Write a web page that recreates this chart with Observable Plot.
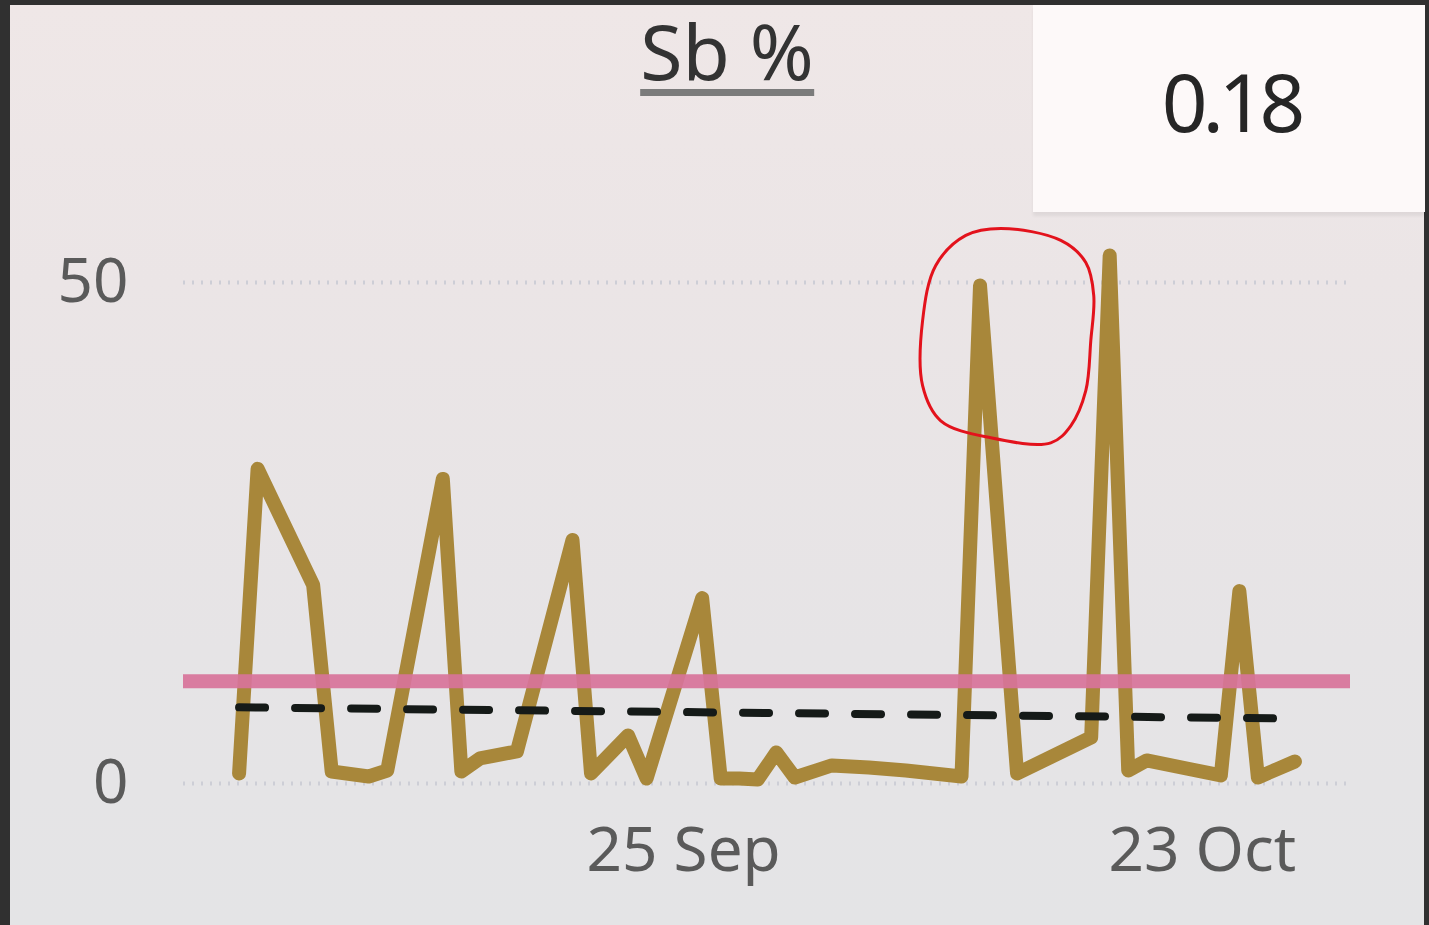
<!DOCTYPE html>
<html>
<head>
<meta charset="utf-8">
<script src="https://cdn.jsdelivr.net/npm/d3@7"></script>
<script src="https://cdn.jsdelivr.net/npm/@observablehq/plot@0.6"></script>
<style>
  html, body { margin: 0; padding: 0; }
  body { width: 1429px; height: 925px; background: #303030; position: relative; overflow: hidden; font-family: "Noto Sans", "Open Sans", sans-serif; }
  #panel { position: absolute; left: 10px; top: 5px; width: 1414px; height: 920px;
    background: linear-gradient(180deg, #efe7e7 0%, #ebe5e6 30%, #e6e4e6 70%, #e4e4e6 100%); }
  #title { position: absolute; left: 727px; top: 12px; transform: translateX(-50%);
    font-size: 77px; line-height: 1; color: #333; white-space: nowrap; }
  #title span { display: inline-block; border-bottom: 7px solid #7b7b7b; padding-bottom: 0px; }
  #card { position: absolute; left: 1033px; top: 5px; width: 392px; height: 207px; background: #fdf9f9;
    box-shadow: 0 4px 3px rgba(0,0,0,0.06); }
  #cardval { position: absolute; left: 1231px; top: 61px; transform: translateX(-50%);
    font-size: 80px; line-height: 1; letter-spacing: -5px; color: #262626; white-space: nowrap; }
  #chart { position: absolute; left: 0; top: 0; }
</style>
</head>
<body>
<div id="panel"></div>
<div id="card"></div>
<div id="title"><span>Sb %</span></div>
<div id="cardval">0.18</div>
<div id="chart"></div>
<script>
// Series: Sb % by date
const dates = ["2023-09-01","2023-09-02","2023-09-05","2023-09-06","2023-09-08","2023-09-09","2023-09-12","2023-09-13","2023-09-14","2023-09-16","2023-09-19","2023-09-20","2023-09-22","2023-09-23","2023-09-26","2023-09-27","2023-09-28","2023-09-29","2023-09-30","2023-10-01","2023-10-03","2023-10-05","2023-10-07","2023-10-09","2023-10-10","2023-10-11","2023-10-13","2023-10-17","2023-10-18","2023-10-19","2023-10-20","2023-10-24","2023-10-25","2023-10-26","2023-10-28"];
const values = [1.0,31.4,19.8,1.2,0.7,1.3,30.4,1.2,2.5,3.2,24.3,1.0,4.8,0.5,18.5,0.5,0.5,0.4,3.1,0.6,1.8,1.6,1.3,0.9,0.7,49.7,1.0,4.6,52.7,1.3,2.3,0.8,19.2,0.6,2.2];

// Constant target line
const targetValue = [10.2];
// Trend line (dashed) endpoints
const trendDates = ["2023-09-01","2023-10-27"];
const trendValues = [7.6, 6.5];

// Axis ticks
const yTicks = [0, 50];
const xTicks = ["2023-09-25","2023-10-23"];
const xDomain = ["2023-08-29","2023-10-31"];

// Hand-drawn red annotation (days from 25 Sep, value)
const annotBase = "2023-09-25";
const annotDays = [22.14,21.71,20.36,17.12,15.23,13.61,12.90,12.90,13.88,16.58,19.82,20.90,21.71,21.98];
const annotValues = [48.7,52.0,54.2,55.4,54.7,51.7,46.2,39.7,36.2,34.5,34.0,35.7,39.2,44.2];

const series = dates.map((d, i) => ({date: new Date(d), value: values[i]}));
const trend = trendDates.map((d, i) => ({date: new Date(d), value: trendValues[i]}));
const base = new Date(annotBase).getTime();
const annot = annotDays.map((d, i) => ({date: new Date(base + d * 864e5), value: annotValues[i]}));

const plot = Plot.plot({
  width: 1429,
  height: 925,
  marginLeft: 183,
  marginRight: 79,
  marginTop: 282,
  marginBottom: 142,
  style: {background: "transparent", fontFamily: "'Noto Sans', 'Open Sans', sans-serif", fontSize: "62px", color: "#5a5a5a", overflow: "visible"},
  x: {type: "utc", domain: xDomain.map(d => new Date(d)), ticks: xTicks.map(d => new Date(d)), tickFormat: d3.utcFormat("%-d %b"), tickSize: 0, tickPadding: 43, label: null},
  y: {domain: [0, 50], ticks: yTicks, tickSize: 0, tickPadding: 55, label: null},
  marks: [
    Plot.ruleY(yTicks, {stroke: "#cdced6", strokeWidth: 4, strokeDasharray: "2,7"}),
    Plot.line(series, {x: "date", y: "value", stroke: "#a8873a", strokeWidth: 14, strokeLinejoin: "round", strokeLinecap: "round"}),
    Plot.ruleY(targetValue, {stroke: "#d8739a", strokeWidth: 14, strokeOpacity: 0.92}),
    Plot.line(trend, {x: "date", y: "value", stroke: "#151a18", strokeWidth: 8, strokeDasharray: "26,30"}),
    Plot.line(annot, {x: "date", y: "value", stroke: "#e3121c", strokeWidth: 3, curve: "catmull-rom-closed"})
  ]
});
document.getElementById("chart").appendChild(plot);
</script>
</body>
</html>
